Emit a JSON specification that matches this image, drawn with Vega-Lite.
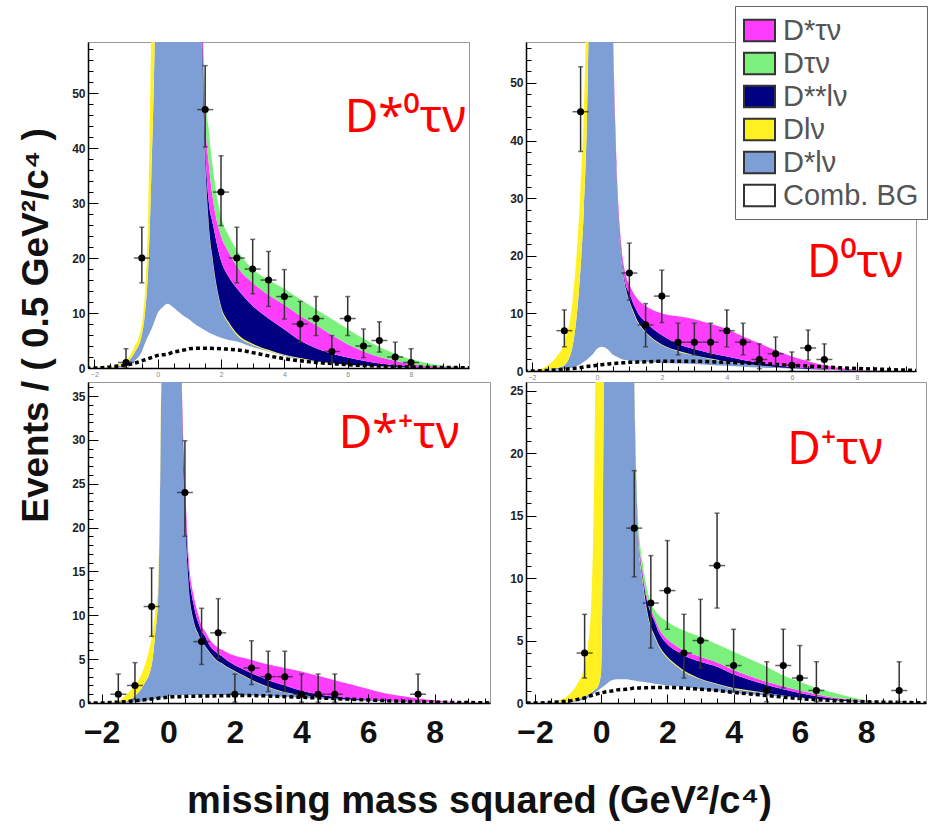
{
"$schema": "https://vega.github.io/schema/vega-lite/v6.json",
"background": "white",
"padding": {"left": 16, "top": 5, "right": 3, "bottom": 5},
"datasets": {
"comps": [
{"k":"bg","name":"Comb. BG","ord":0},
{"k":"s","name":"D*lν","ord":1},
{"k":"l","name":"Dlν","ord":2},
{"k":"ss","name":"D**lν","ord":3},
{"k":"st","name":"D*τν","ord":4},
{"k":"t","name":"Dτν","ord":5}
],
"curves": [
{"p":"a","x":-2.25,"bg":0,"s":0,"l":0,"ss":0,"st":0,"t":0,"d":0},
{"p":"a","x":-2,"bg":0,"s":0,"l":0,"ss":0,"st":0,"t":0,"d":0},
{"p":"a","x":-1.5,"bg":0,"s":0.05,"l":0.1,"ss":0,"st":0,"t":0,"d":0.2},
{"p":"a","x":-1.25,"bg":0.1,"s":0.2,"l":0.3,"ss":0,"st":0,"t":0,"d":0.35},
{"p":"a","x":-1,"bg":0.3,"s":0.6,"l":0.5,"ss":0,"st":0,"t":0,"d":0.5},
{"p":"a","x":-0.75,"bg":1.2,"s":1.4,"l":1,"ss":0,"st":0,"t":0,"d":0.85},
{"p":"a","x":-0.5,"bg":3,"s":3,"l":2,"ss":0,"st":0,"t":0,"d":1.3},
{"p":"a","x":-0.4,"bg":4.5,"s":5.5,"l":4,"ss":0,"st":0,"t":0,"d":1.5},
{"p":"a","x":-0.3,"bg":5.8,"s":12.2,"l":10,"ss":0,"st":0,"t":0,"d":1.7},
{"p":"a","x":-0.2,"bg":7,"s":28,"l":27,"ss":0,"st":0,"t":0,"d":1.9},
{"p":"a","x":-0.1,"bg":8.5,"s":49.5,"l":32,"ss":0,"st":0,"t":0,"d":2.1},
{"p":"a","x":0,"bg":10,"s":90,"l":30,"ss":0,"st":0,"t":0,"d":2.3},
{"p":"a","x":0.15,"bg":11,"s":139,"l":20,"ss":0,"st":0,"t":0,"d":2.4},
{"p":"a","x":0.3,"bg":11.7,"s":188,"l":10,"ss":0,"st":0,"t":0,"d":2.5},
{"p":"a","x":0.5,"bg":11,"s":199,"l":5,"ss":0,"st":0,"t":0,"d":2.9},
{"p":"a","x":0.6,"bg":10.5,"s":190,"l":5,"ss":0,"st":0,"t":0,"d":3},
{"p":"a","x":0.75,"bg":9.8,"s":180,"l":3,"ss":0,"st":0,"t":0,"d":3.2},
{"p":"a","x":0.9,"bg":9.2,"s":161,"l":2,"ss":0,"st":0,"t":0,"d":3.35},
{"p":"a","x":1,"bg":8.8,"s":141,"l":2,"ss":0,"st":0,"t":0,"d":3.5},
{"p":"a","x":1.1,"bg":8.3,"s":117,"l":1,"ss":0,"st":0,"t":0,"d":3.55},
{"p":"a","x":1.25,"bg":7.7,"s":87,"l":1,"ss":0,"st":0,"t":0,"d":3.6},
{"p":"a","x":1.4,"bg":7.2,"s":51,"l":0.5,"ss":3.5,"st":4,"t":4,"d":3.6},
{"p":"a","x":1.5,"bg":6.8,"s":31.2,"l":0.3,"ss":2.7,"st":5,"t":4,"d":3.6},
{"p":"a","x":1.6,"bg":6.5,"s":20.5,"l":0.3,"ss":3.7,"st":7,"t":6,"d":3.6},
{"p":"a","x":1.75,"bg":6.1,"s":12.9,"l":0.3,"ss":6.7,"st":4.5,"t":5.5,"d":3.55},
{"p":"a","x":2,"bg":5.5,"s":5.5,"l":0.3,"ss":8.2,"st":4.5,"t":3.5,"d":3.5},
{"p":"a","x":2.25,"bg":5.1,"s":2.9,"l":0.3,"ss":8.2,"st":4.5,"t":3,"d":3.4},
{"p":"a","x":2.5,"bg":4.8,"s":1.2,"l":0.3,"ss":8.2,"st":4,"t":3,"d":3.3},
{"p":"a","x":3,"bg":3.8,"s":0.4,"l":0.2,"ss":6.9,"st":4.2,"t":2.5,"d":2.8},
{"p":"a","x":3.5,"bg":3,"s":0.1,"l":0.2,"ss":5.7,"st":4.3,"t":2.7,"d":2.2},
{"p":"a","x":4,"bg":2.2,"s":0.1,"l":0.1,"ss":4.6,"st":4.5,"t":2.9,"d":1.7},
{"p":"a","x":4.5,"bg":1.6,"s":0.1,"l":0.1,"ss":3.2,"st":4.5,"t":3,"d":1.3},
{"p":"a","x":5,"bg":1.1,"s":0.05,"l":0.1,"ss":2.35,"st":4.2,"t":2.9,"d":1},
{"p":"a","x":5.5,"bg":0.8,"s":0.05,"l":0.05,"ss":1.7,"st":3.4,"t":2.9,"d":0.8},
{"p":"a","x":6,"bg":0.5,"s":0.05,"l":0.05,"ss":1.3,"st":2.4,"t":2.8,"d":0.6},
{"p":"a","x":6.5,"bg":0.35,"s":0.05,"l":0.05,"ss":0.85,"st":1.7,"t":2.3,"d":0.45},
{"p":"a","x":7,"bg":0.2,"s":0.05,"l":0.05,"ss":0.5,"st":1.2,"t":1.8,"d":0.35},
{"p":"a","x":7.5,"bg":0.15,"s":0.05,"l":0,"ss":0.3,"st":0.8,"t":1.3,"d":0.25},
{"p":"a","x":8,"bg":0.1,"s":0,"l":0,"ss":0.15,"st":0.45,"t":0.9,"d":0.2},
{"p":"a","x":8.5,"bg":0.05,"s":0,"l":0,"ss":0.05,"st":0.3,"t":0.5,"d":0.15},
{"p":"a","x":9,"bg":0,"s":0,"l":0,"ss":0.05,"st":0.15,"t":0.2,"d":0.1},
{"p":"a","x":9.5,"bg":0,"s":0,"l":0,"ss":0,"st":0.1,"t":0.1,"d":0.07},
{"p":"a","x":9.85,"bg":0,"s":0,"l":0,"ss":0,"st":0,"t":0.05,"d":0.05},

{"p":"b","x":-2.25,"bg":0,"s":0,"l":0,"ss":0,"st":0,"t":0,"d":0},
{"p":"b","x":-2,"bg":0,"s":0,"l":0.05,"ss":0,"st":0,"t":0,"d":0},
{"p":"b","x":-1.5,"bg":0.1,"s":0.1,"l":0.8,"ss":0,"st":0,"t":0,"d":0.1},
{"p":"b","x":-1.25,"bg":0.2,"s":0.3,"l":1.9,"ss":0,"st":0,"t":0,"d":0.2},
{"p":"b","x":-1,"bg":0.3,"s":0.7,"l":4,"ss":0,"st":0,"t":0,"d":0.3},
{"p":"b","x":-0.75,"bg":0.6,"s":3.6,"l":7.8,"ss":0,"st":0,"t":0,"d":0.45},
{"p":"b","x":-0.5,"bg":1.2,"s":16.8,"l":14,"ss":0,"st":0,"t":0,"d":0.6},
{"p":"b","x":-0.4,"bg":1.6,"s":26.4,"l":17,"ss":0,"st":0,"t":0,"d":0.7},
{"p":"b","x":-0.3,"bg":2,"s":43,"l":25,"ss":0,"st":0,"t":0,"d":0.8},
{"p":"b","x":-0.2,"bg":2.5,"s":77.5,"l":30,"ss":0,"st":0,"t":0,"d":0.85},
{"p":"b","x":-0.1,"bg":3.1,"s":127,"l":20,"ss":0,"st":0,"t":0,"d":0.9},
{"p":"b","x":0,"bg":3.8,"s":176,"l":10,"ss":0,"st":0,"t":0,"d":1},
{"p":"b","x":0.15,"bg":4.2,"s":196,"l":5,"ss":0,"st":0,"t":0,"d":1.1},
{"p":"b","x":0.3,"bg":3.9,"s":146,"l":2,"ss":0,"st":0,"t":0,"d":1.2},
{"p":"b","x":0.5,"bg":2.8,"s":54.2,"l":0.5,"ss":0.5,"st":1,"t":0,"d":1.3},
{"p":"b","x":0.6,"bg":2.5,"s":32.5,"l":0.3,"ss":0.7,"st":1,"t":0,"d":1.35},
{"p":"b","x":0.75,"bg":2.1,"s":17.9,"l":0.3,"ss":0.7,"st":1,"t":0,"d":1.4},
{"p":"b","x":0.9,"bg":1.9,"s":12.1,"l":0.2,"ss":0.6,"st":1.7,"t":0,"d":1.45},
{"p":"b","x":1,"bg":1.8,"s":10.2,"l":0.2,"ss":1.3,"st":1.5,"t":0,"d":1.5},
{"p":"b","x":1.1,"bg":1.75,"s":8.75,"l":0.2,"ss":1.3,"st":1.8,"t":0,"d":1.52},
{"p":"b","x":1.25,"bg":1.7,"s":6.8,"l":0.2,"ss":1.5,"st":2.3,"t":0,"d":1.55},
{"p":"b","x":1.5,"bg":1.6,"s":5.1,"l":0.1,"ss":1.7,"st":2.8,"t":0,"d":1.6},
{"p":"b","x":1.75,"bg":1.5,"s":3.9,"l":0.1,"ss":1.7,"st":3.3,"t":0,"d":1.65},
{"p":"b","x":2,"bg":1.4,"s":3.1,"l":0.1,"ss":1.6,"st":3.8,"t":0,"d":1.7},
{"p":"b","x":2.5,"bg":1.3,"s":2.1,"l":0.1,"ss":1.2,"st":4.8,"t":0,"d":1.7},
{"p":"b","x":3,"bg":1.2,"s":1.5,"l":0.05,"ss":1.05,"st":5.2,"t":0,"d":1.7},
{"p":"b","x":3.5,"bg":1.05,"s":1.05,"l":0.05,"ss":0.95,"st":5.1,"t":0,"d":1.6},
{"p":"b","x":4,"bg":0.9,"s":0.7,"l":0.05,"ss":0.85,"st":4.8,"t":0,"d":1.5},
{"p":"b","x":4.5,"bg":0.75,"s":0.55,"l":0,"ss":0.6,"st":4.1,"t":0,"d":1.4},
{"p":"b","x":5,"bg":0.6,"s":0.4,"l":0,"ss":0.4,"st":3.4,"t":0,"d":1.3},
{"p":"b","x":5.5,"bg":0.5,"s":0.2,"l":0,"ss":0.3,"st":2.6,"t":0,"d":1.15},
{"p":"b","x":6,"bg":0.4,"s":0.1,"l":0,"ss":0.2,"st":1.8,"t":0,"d":1},
{"p":"b","x":6.5,"bg":0.3,"s":0.05,"l":0,"ss":0.15,"st":1.2,"t":0,"d":0.85},
{"p":"b","x":7,"bg":0.2,"s":0.05,"l":0,"ss":0.05,"st":0.7,"t":0,"d":0.7},
{"p":"b","x":7.5,"bg":0.15,"s":0,"l":0,"ss":0.05,"st":0.3,"t":0,"d":0.55},
{"p":"b","x":8,"bg":0.1,"s":0,"l":0,"ss":0,"st":0.1,"t":0,"d":0.45},
{"p":"b","x":8.5,"bg":0.05,"s":0,"l":0,"ss":0,"st":0.05,"t":0,"d":0.35},
{"p":"b","x":9,"bg":0,"s":0,"l":0,"ss":0,"st":0.05,"t":0,"d":0.25},
{"p":"b","x":9.5,"bg":0,"s":0,"l":0,"ss":0,"st":0,"t":0,"d":0.15},
{"p":"b","x":9.85,"bg":0,"s":0,"l":0,"ss":0,"st":0,"t":0,"d":0.1},

{"p":"c","x":-2.45,"bg":0,"s":0,"l":0,"ss":0,"st":0,"t":0,"d":0},
{"p":"c","x":-2,"bg":0,"s":0,"l":0,"ss":0,"st":0,"t":0,"d":0},
{"p":"c","x":-1.5,"bg":0,"s":0.05,"l":0.15,"ss":0,"st":0,"t":0,"d":0.1},
{"p":"c","x":-1.25,"bg":0.05,"s":0.15,"l":0.8,"ss":0,"st":0,"t":0,"d":0.15},
{"p":"c","x":-1,"bg":0.1,"s":0.7,"l":1.2,"ss":0,"st":0,"t":0,"d":0.25},
{"p":"c","x":-0.75,"bg":0.2,"s":1.8,"l":1.8,"ss":0,"st":0,"t":0,"d":0.35},
{"p":"c","x":-0.5,"bg":0.4,"s":3.9,"l":3.2,"ss":0,"st":0,"t":0,"d":0.45},
{"p":"c","x":-0.4,"bg":0.45,"s":7.05,"l":2.5,"ss":0,"st":0,"t":0,"d":0.5},
{"p":"c","x":-0.3,"bg":0.5,"s":11.9,"l":1.6,"ss":0,"st":0,"t":0,"d":0.55},
{"p":"c","x":-0.2,"bg":0.6,"s":39.4,"l":2,"ss":0,"st":0,"t":0,"d":0.6},
{"p":"c","x":-0.1,"bg":0.7,"s":79.3,"l":1,"ss":0,"st":0,"t":0,"d":0.62},
{"p":"c","x":0,"bg":0.8,"s":119.2,"l":0.5,"ss":0,"st":0,"t":0,"d":0.65},
{"p":"c","x":0.15,"bg":0.85,"s":129,"l":0.3,"ss":0,"st":0,"t":0,"d":0.7},
{"p":"c","x":0.3,"bg":0.9,"s":69,"l":0.2,"ss":0.5,"st":0.5,"t":0,"d":0.72},
{"p":"c","x":0.4,"bg":0.9,"s":35,"l":0.1,"ss":1,"st":1,"t":0,"d":0.73},
{"p":"c","x":0.5,"bg":0.9,"s":21.1,"l":0.1,"ss":1.9,"st":1.5,"t":0,"d":0.75},
{"p":"c","x":0.6,"bg":0.9,"s":13.1,"l":0.1,"ss":1.9,"st":1.2,"t":0,"d":0.76},
{"p":"c","x":0.75,"bg":0.9,"s":8.6,"l":0.1,"ss":1.9,"st":1,"t":0,"d":0.78},
{"p":"c","x":0.9,"bg":0.9,"s":6.9,"l":0.1,"ss":1.3,"st":0.9,"t":0,"d":0.79},
{"p":"c","x":1,"bg":0.9,"s":6.1,"l":0.05,"ss":1.15,"st":0.6,"t":0,"d":0.8},
{"p":"c","x":1.1,"bg":0.9,"s":5.6,"l":0.05,"ss":1.05,"st":0.6,"t":0,"d":0.8},
{"p":"c","x":1.25,"bg":0.9,"s":4.8,"l":0.05,"ss":0.75,"st":0.7,"t":0,"d":0.8},
{"p":"c","x":1.4,"bg":0.9,"s":4.15,"l":0.05,"ss":0.8,"st":0.7,"t":0,"d":0.81},
{"p":"c","x":1.5,"bg":0.9,"s":3.8,"l":0.05,"ss":0.85,"st":0.7,"t":0,"d":0.82},
{"p":"c","x":1.6,"bg":0.9,"s":3.6,"l":0.05,"ss":0.8,"st":0.75,"t":0,"d":0.82},
{"p":"c","x":1.75,"bg":0.9,"s":3.2,"l":0.05,"ss":0.75,"st":0.9,"t":0,"d":0.83},
{"p":"c","x":2,"bg":0.9,"s":2.7,"l":0.05,"ss":0.65,"st":1.1,"t":0,"d":0.85},
{"p":"c","x":2.25,"bg":0.88,"s":2.22,"l":0.05,"ss":0.7,"st":1.3,"t":0,"d":0.85},
{"p":"c","x":2.5,"bg":0.85,"s":1.75,"l":0.05,"ss":0.75,"st":1.5,"t":0,"d":0.85},
{"p":"c","x":3,"bg":0.8,"s":1,"l":0.05,"ss":0.75,"st":1.8,"t":0,"d":0.8},
{"p":"c","x":3.5,"bg":0.7,"s":0.5,"l":0.05,"ss":0.75,"st":2,"t":0,"d":0.72},
{"p":"c","x":4,"bg":0.6,"s":0.3,"l":0,"ss":0.5,"st":2.2,"t":0,"d":0.65},
{"p":"c","x":4.5,"bg":0.5,"s":0.2,"l":0,"ss":0.3,"st":2.1,"t":0,"d":0.57},
{"p":"c","x":5,"bg":0.4,"s":0.1,"l":0,"ss":0.2,"st":1.9,"t":0,"d":0.5},
{"p":"c","x":5.5,"bg":0.32,"s":0.08,"l":0,"ss":0.15,"st":1.55,"t":0,"d":0.42},
{"p":"c","x":6,"bg":0.25,"s":0.05,"l":0,"ss":0.1,"st":1.2,"t":0,"d":0.35},
{"p":"c","x":6.5,"bg":0.2,"s":0.02,"l":0,"ss":0.08,"st":0.8,"t":0,"d":0.27},
{"p":"c","x":7,"bg":0.15,"s":0,"l":0,"ss":0.05,"st":0.6,"t":0,"d":0.2},
{"p":"c","x":7.5,"bg":0.12,"s":0,"l":0,"ss":0.03,"st":0.35,"t":0,"d":0.15},
{"p":"c","x":8,"bg":0.1,"s":0,"l":0,"ss":0,"st":0.2,"t":0,"d":0.1},
{"p":"c","x":8.5,"bg":0.05,"s":0,"l":0,"ss":0,"st":0.1,"t":0,"d":0.07},
{"p":"c","x":9,"bg":0,"s":0,"l":0,"ss":0,"st":0.05,"t":0,"d":0.05},
{"p":"c","x":9.5,"bg":0,"s":0,"l":0,"ss":0,"st":0,"t":0,"d":0.02},
{"p":"c","x":9.85,"bg":0,"s":0,"l":0,"ss":0,"st":0,"t":0,"d":0},

{"p":"d","x":-2.25,"bg":0,"s":0,"l":0,"ss":0,"st":0,"t":0,"d":0},
{"p":"d","x":-2,"bg":0,"s":0,"l":0,"ss":0,"st":0,"t":0,"d":0},
{"p":"d","x":-1.5,"bg":0,"s":0.02,"l":0.03,"ss":0,"st":0,"t":0,"d":0.05},
{"p":"d","x":-1.25,"bg":0.02,"s":0.03,"l":0.15,"ss":0,"st":0,"t":0,"d":0.1},
{"p":"d","x":-1,"bg":0.05,"s":0.05,"l":0.5,"ss":0,"st":0,"t":0,"d":0.15},
{"p":"d","x":-0.75,"bg":0.15,"s":0.1,"l":1.15,"ss":0,"st":0,"t":0,"d":0.27},
{"p":"d","x":-0.5,"bg":0.3,"s":0.2,"l":2.5,"ss":0,"st":0,"t":0,"d":0.4},
{"p":"d","x":-0.4,"bg":0.45,"s":0.2,"l":3.85,"ss":0,"st":0,"t":0,"d":0.5},
{"p":"d","x":-0.3,"bg":0.6,"s":0.25,"l":7.15,"ss":0,"st":0,"t":0,"d":0.6},
{"p":"d","x":-0.2,"bg":0.8,"s":0.25,"l":19,"ss":0,"st":0,"t":0,"d":0.68},
{"p":"d","x":-0.1,"bg":1,"s":0.3,"l":48.7,"ss":0,"st":0,"t":0,"d":0.75},
{"p":"d","x":0,"bg":1.2,"s":1.3,"l":77.5,"ss":0,"st":0,"t":0,"d":0.8},
{"p":"d","x":0.15,"bg":1.5,"s":58.5,"l":70,"ss":0,"st":0,"t":0,"d":0.9},
{"p":"d","x":0.3,"bg":1.8,"s":118,"l":40,"ss":0,"st":0,"t":0,"d":0.95},
{"p":"d","x":0.5,"bg":1.9,"s":148,"l":20,"ss":0,"st":0,"t":0,"d":1.05},
{"p":"d","x":0.6,"bg":1.9,"s":148,"l":15,"ss":0,"st":0,"t":0,"d":1.08},
{"p":"d","x":0.75,"bg":1.9,"s":118,"l":10,"ss":0,"st":0,"t":0,"d":1.1},
{"p":"d","x":0.9,"bg":1.85,"s":48,"l":2,"ss":0,"st":0,"t":0,"d":1.15},
{"p":"d","x":1,"bg":1.8,"s":23.2,"l":0.5,"ss":0.3,"st":0.2,"t":0.5,"d":1.2},
{"p":"d","x":1.1,"bg":1.75,"s":12.25,"l":0.3,"ss":0.3,"st":0.3,"t":0.6,"d":1.2},
{"p":"d","x":1.25,"bg":1.7,"s":8.1,"l":0.2,"ss":0.3,"st":0.3,"t":0.7,"d":1.22},
{"p":"d","x":1.4,"bg":1.65,"s":5.45,"l":0.15,"ss":0.75,"st":0.3,"t":0.7,"d":1.22},
{"p":"d","x":1.5,"bg":1.6,"s":4.4,"l":0.1,"ss":1.1,"st":0.3,"t":0.5,"d":1.23},
{"p":"d","x":1.6,"bg":1.55,"s":3.85,"l":0.1,"ss":1.1,"st":0.3,"t":0.6,"d":1.24},
{"p":"d","x":1.75,"bg":1.5,"s":3,"l":0.1,"ss":1,"st":0.35,"t":1.05,"d":1.25},
{"p":"d","x":2,"bg":1.4,"s":2.2,"l":0.1,"ss":1,"st":0.4,"t":1.4,"d":1.25},
{"p":"d","x":2.25,"bg":1.35,"s":1.65,"l":0.1,"ss":1.1,"st":0.4,"t":1.5,"d":1.23},
{"p":"d","x":2.5,"bg":1.3,"s":1.2,"l":0.1,"ss":1.2,"st":0.4,"t":1.6,"d":1.2},
{"p":"d","x":3,"bg":1.1,"s":0.8,"l":0.05,"ss":1.35,"st":0.4,"t":1.6,"d":1.1},
{"p":"d","x":3.5,"bg":0.95,"s":0.55,"l":0.05,"ss":1.35,"st":0.35,"t":1.45,"d":1},
{"p":"d","x":4,"bg":0.8,"s":0.35,"l":0.05,"ss":1.1,"st":0.35,"t":1.45,"d":0.85},
{"p":"d","x":4.5,"bg":0.7,"s":0.25,"l":0.05,"ss":0.85,"st":0.3,"t":1.35,"d":0.72},
{"p":"d","x":5,"bg":0.6,"s":0.2,"l":0,"ss":0.65,"st":0.25,"t":1.2,"d":0.6},
{"p":"d","x":5.5,"bg":0.5,"s":0.1,"l":0,"ss":0.5,"st":0.25,"t":0.85,"d":0.47},
{"p":"d","x":6,"bg":0.4,"s":0.05,"l":0,"ss":0.35,"st":0.2,"t":0.7,"d":0.35},
{"p":"d","x":6.5,"bg":0.3,"s":0.05,"l":0,"ss":0.2,"st":0.15,"t":0.5,"d":0.27},
{"p":"d","x":7,"bg":0.25,"s":0,"l":0,"ss":0.1,"st":0.1,"t":0.4,"d":0.2},
{"p":"d","x":7.5,"bg":0.15,"s":0,"l":0,"ss":0.07,"st":0.08,"t":0.2,"d":0.15},
{"p":"d","x":8,"bg":0.1,"s":0,"l":0,"ss":0.02,"st":0.03,"t":0.05,"d":0.1},
{"p":"d","x":8.5,"bg":0.05,"s":0,"l":0,"ss":0.01,"st":0.01,"t":0.01,"d":0.07},
{"p":"d","x":9,"bg":0.02,"s":0,"l":0,"ss":0,"st":0,"t":0,"d":0.05},
{"p":"d","x":9.5,"bg":0,"s":0,"l":0,"ss":0,"st":0,"t":0,"d":0.02},
{"p":"d","x":9.85,"bg":0,"s":0,"l":0,"ss":0,"st":0,"t":0,"d":0}
],
"pts": [
{"p":"a","x":-1,"n":1,"lo":0,"hi":3.5},
{"p":"a","x":-0.5,"n":20,"lo":15.5,"hi":25.6},
{"p":"a","x":1.5,"n":47,"lo":40.2,"hi":55},
{"p":"a","x":2,"n":32,"lo":25.9,"hi":38.6},
{"p":"a","x":2.5,"n":20,"lo":15.5,"hi":25.6},
{"p":"a","x":3,"n":18,"lo":13.5,"hi":23.4},
{"p":"a","x":3.5,"n":16,"lo":11.2,"hi":21.2},
{"p":"a","x":4,"n":13,"lo":8.9,"hi":17.9},
{"p":"a","x":4.5,"n":8,"lo":4.7,"hi":12.1},
{"p":"a","x":5,"n":9,"lo":5.9,"hi":13},
{"p":"a","x":5.5,"n":3,"lo":1,"hi":5.9},
{"p":"a","x":6,"n":9,"lo":5.9,"hi":13},
{"p":"a","x":6.5,"n":4,"lo":1.9,"hi":7.1},
{"p":"a","x":7,"n":5,"lo":2.9,"hi":8.4},
{"p":"a","x":7.5,"n":2,"lo":0.4,"hi":4.7},
{"p":"a","x":8,"n":1,"lo":0,"hi":3.5},
{"p":"b","x":-1,"n":7,"lo":4.2,"hi":10.6},
{"p":"b","x":-0.5,"n":45,"lo":38.1,"hi":52.8},
{"p":"b","x":1,"n":17,"lo":12.3,"hi":22.2},
{"p":"b","x":1.5,"n":8,"lo":4.2,"hi":11.7},
{"p":"b","x":2,"n":13,"lo":8.4,"hi":17.5},
{"p":"b","x":2.5,"n":5,"lo":2.8,"hi":8.3},
{"p":"b","x":3,"n":5,"lo":2.8,"hi":8.3},
{"p":"b","x":3.5,"n":5,"lo":2.8,"hi":8.3},
{"p":"b","x":4,"n":7,"lo":4.2,"hi":10.6},
{"p":"b","x":4.5,"n":5,"lo":2.8,"hi":8.3},
{"p":"b","x":5,"n":2,"lo":0.4,"hi":4.7},
{"p":"b","x":5.5,"n":3,"lo":1,"hi":5.9},
{"p":"b","x":6,"n":1,"lo":0,"hi":3.3},
{"p":"b","x":6.5,"n":4,"lo":1.9,"hi":7.1},
{"p":"b","x":7,"n":2,"lo":0.4,"hi":4.7},
{"p":"c","x":-1.5,"n":1,"lo":0.1,"hi":3.3},
{"p":"c","x":-1,"n":2,"lo":0.4,"hi":4.6},
{"p":"c","x":-0.5,"n":11,"lo":7.6,"hi":15.4},
{"p":"c","x":0.5,"n":24,"lo":19,"hi":29.9},
{"p":"c","x":1,"n":7,"lo":4.4,"hi":10.8},
{"p":"c","x":1.5,"n":8,"lo":5.1,"hi":11.9},
{"p":"c","x":2,"n":1,"lo":0.1,"hi":3.3},
{"p":"c","x":2.5,"n":4,"lo":2.1,"hi":7.1},
{"p":"c","x":3,"n":3,"lo":1.3,"hi":5.9},
{"p":"c","x":3.5,"n":3,"lo":1.3,"hi":5.9},
{"p":"c","x":4,"n":1,"lo":0.1,"hi":3.3},
{"p":"c","x":4.5,"n":1,"lo":0.1,"hi":3.3},
{"p":"c","x":5,"n":1,"lo":0.1,"hi":3.3},
{"p":"c","x":7.5,"n":1,"lo":0.1,"hi":3.3},
{"p":"d","x":-0.5,"n":4,"lo":2,"hi":7.1},
{"p":"d","x":1,"n":14,"lo":10.1,"hi":18.6},
{"p":"d","x":1.5,"n":8,"lo":4.4,"hi":11.8},
{"p":"d","x":2,"n":9,"lo":5.9,"hi":13},
{"p":"d","x":2.5,"n":4,"lo":2,"hi":7.1},
{"p":"d","x":3,"n":5,"lo":2.8,"hi":8.3},
{"p":"d","x":3.5,"n":11,"lo":7.6,"hi":15.2},
{"p":"d","x":4,"n":3,"lo":0.9,"hi":5.9},
{"p":"d","x":5,"n":1,"lo":0.1,"hi":3.3},
{"p":"d","x":5.5,"n":3,"lo":1.2,"hi":5.9},
{"p":"d","x":6,"n":2,"lo":0.3,"hi":4.6},
{"p":"d","x":6.5,"n":1,"lo":0.1,"hi":3.3},
{"p":"d","x":9,"n":1,"lo":0.1,"hi":3.3}
],
"labels": [
{"p":"a","x":7.82,"y":42.9,"t":"D*⁰τν"},
{"p":"b","x":7.94,"y":16.3,"t":"D⁰τν"},
{"p":"c","x":6.93,"y":29.1,"t":"D*⁺τν"},
{"p":"d","x":7.06,"y":19.1,"t":"D⁺τν"}
]
},
"concat": [
{"width": 381, "height": 326,
"layer": [
{"data": {"name": "curves"},
"transform": [{"filter": "datum.p === 'a'"}, {"fold": ["bg","s","l","ss","st","t"], "as": ["k","v"]}, {"lookup": "k", "from": {"data": {"name": "comps"}, "key": "k", "fields": ["name","ord"]}}],
"mark": {"type": "area", "interpolate": "monotone", "clip": true},
"encoding": {
"x": {"field": "x", "type": "quantitative", "scale": {"domain": [-2.2, 9.83], "nice": false, "zero": false}, "axis": {"zindex": 1, "values": [-2,0,2,4,6,8], "labelFontSize": 7, "labelColor": "#888", "tickSize": -9, "labelPadding": 11, "domainColor": "#000", "domainWidth": 1.5, "tickColor": "#000", "title": null, "grid": false}},
"y": {"field": "v", "type": "quantitative", "stack": "zero", "scale": {"domain": [0, 59.3], "nice": false}, "axis": {"zindex": 1, "values": [0,10,20,30,40,50], "labelFontSize": 12, "labelFontWeight": "bold", "labelColor": "#222", "tickSize": -10, "labelPadding": 13, "domainColor": "#000", "domainWidth": 1.5, "tickColor": "#000", "grid": false, "title": "Events / ( 0.5 GeV²/c⁴ )", "titleFontSize": 37, "titleFontWeight": "bold", "titleColor": "#111", "titleX": -52, "titleY": 283, "titleAngle": -90, "titleBaseline": "middle", "titleAlign": "center"}},
"color": {"field": "name", "type": "nominal", "scale": {"domain": ["D*τν","Dτν","D**lν","Dlν","D*lν","Comb. BG"], "range": ["#FF3DFF","#7CF07C","#000080","#FFF022","#7E9ED6","#FFFFFF"]}, "legend": {"title": null}},
"order": {"field": "ord", "type": "quantitative"}
}},
{"data": {"name": "curves"},
"transform": [{"filter": "datum.p === 'a'"}],
"mark": {"type": "line", "color": "#000", "strokeDash": [4,3], "strokeWidth": 3.5, "interpolate": "monotone", "clip": true},
"encoding": {
"x": {"field": "x", "type": "quantitative", "axis": {"zindex": 1, "orient": "bottom", "values": [-2,-1.5,-1,-0.5,0,0.5,1,1.5,2,2.5,3,3.5,4,4.5,5,5.5,6,6.5,7,7.5,8,8.5,9,9.5], "labels": false, "domain": false, "tickSize": -5, "tickColor": "#000", "title": null, "grid": false}},
"y": {"field": "d", "type": "quantitative", "axis": {"zindex": 1, "orient": "left", "values": [0,2,4,6,8,10,12,14,16,18,20,22,24,26,28,30,32,34,36,38,40,42,44,46,48,50,52,54,56,58], "labels": false, "domain": false, "tickSize": -5, "tickColor": "#000", "title": null, "grid": false}}
}},
{"data": {"name": "pts"}, "transform": [{"filter": "datum.p === 'a'"}],
"mark": {"type": "rule", "color": "#333", "strokeWidth": 1.5},
"encoding": {"x": {"field": "x", "type": "quantitative", "axis": null}, "y": {"field": "lo", "type": "quantitative", "axis": null}, "y2": {"field": "hi"}}},
{"data": {"name": "pts"}, "transform": [{"filter": "datum.p === 'a'"}, {"fold": ["lo","hi"], "as": ["e","ev"]}],
"mark": {"type": "tick", "orient": "horizontal", "size": 5, "thickness": 1.5, "color": "#333"},
"encoding": {"x": {"field": "x", "type": "quantitative", "axis": null}, "y": {"field": "ev", "type": "quantitative", "axis": null}}},
{"data": {"name": "pts"}, "transform": [{"filter": "datum.p === 'a'"}],
"mark": {"type": "tick", "orient": "horizontal", "size": 16, "thickness": 1.5, "color": "#222"},
"encoding": {"x": {"field": "x", "type": "quantitative", "axis": null}, "y": {"field": "n", "type": "quantitative", "axis": null}}},
{"data": {"name": "pts"}, "transform": [{"filter": "datum.p === 'a'"}],
"mark": {"type": "circle", "size": 50, "color": "#000", "opacity": 1},
"encoding": {"x": {"field": "x", "type": "quantitative", "axis": null}, "y": {"field": "n", "type": "quantitative", "axis": null}}},
{"data": {"name": "labels"}, "transform": [{"filter": "datum.p === 'a'"}],
"mark": {"type": "text", "font": "Noto Sans", "fontSize": 46, "color": "#FF0000", "align": "center", "baseline": "alphabetic"},
"encoding": {"x": {"field": "x", "type": "quantitative", "axis": null}, "y": {"field": "y", "type": "quantitative", "axis": null}, "text": {"field": "t"}}}
],
"resolve": {"axis": {"x": "independent", "y": "independent"}}
},
{"width": 390, "height": 329,
"layer": [
{"data": {"name": "curves"},
"transform": [{"filter": "datum.p === 'b'"}, {"fold": ["bg","s","l","ss","st","t"], "as": ["k","v"]}, {"lookup": "k", "from": {"data": {"name": "comps"}, "key": "k", "fields": ["name","ord"]}}],
"mark": {"type": "area", "interpolate": "monotone", "clip": true},
"encoding": {
"x": {"field": "x", "type": "quantitative", "scale": {"domain": [-2.18, 9.82], "nice": false, "zero": false}, "axis": {"zindex": 1, "values": [-2,0,2,4,6,8], "labelFontSize": 7, "labelColor": "#888", "tickSize": -9, "labelPadding": 11, "domainColor": "#000", "domainWidth": 1.5, "tickColor": "#000", "title": null, "grid": false}},
"y": {"field": "v", "type": "quantitative", "stack": "zero", "scale": {"domain": [0, 57.1], "nice": false}, "axis": {"zindex": 1, "values": [0,10,20,30,40,50], "labelFontSize": 12, "labelFontWeight": "bold", "labelColor": "#222", "tickSize": -10, "labelPadding": 13, "domainColor": "#000", "domainWidth": 1.5, "tickColor": "#000", "grid": false, "title": null}},
"color": {"field": "name", "type": "nominal", "scale": {"domain": ["D*τν","Dτν","D**lν","Dlν","D*lν","Comb. BG"], "range": ["#FF3DFF","#7CF07C","#000080","#FFF022","#7E9ED6","#FFFFFF"]}, "legend": {"title": null}},
"order": {"field": "ord", "type": "quantitative"}
}},
{"data": {"name": "curves"},
"transform": [{"filter": "datum.p === 'b'"}],
"mark": {"type": "line", "color": "#000", "strokeDash": [4,3], "strokeWidth": 3.5, "interpolate": "monotone", "clip": true},
"encoding": {
"x": {"field": "x", "type": "quantitative", "axis": {"zindex": 1, "orient": "bottom", "values": [-2,-1.5,-1,-0.5,0,0.5,1,1.5,2,2.5,3,3.5,4,4.5,5,5.5,6,6.5,7,7.5,8,8.5,9,9.5], "labels": false, "domain": false, "tickSize": -5, "tickColor": "#000", "title": null, "grid": false}},
"y": {"field": "d", "type": "quantitative", "axis": {"zindex": 1, "orient": "left", "values": [0,2,4,6,8,10,12,14,16,18,20,22,24,26,28,30,32,34,36,38,40,42,44,46,48,50,52,54,56], "labels": false, "domain": false, "tickSize": -5, "tickColor": "#000", "title": null, "grid": false}}
}},
{"data": {"name": "pts"}, "transform": [{"filter": "datum.p === 'b'"}],
"mark": {"type": "rule", "color": "#333", "strokeWidth": 1.5},
"encoding": {"x": {"field": "x", "type": "quantitative", "axis": null}, "y": {"field": "lo", "type": "quantitative", "axis": null}, "y2": {"field": "hi"}}},
{"data": {"name": "pts"}, "transform": [{"filter": "datum.p === 'b'"}, {"fold": ["lo","hi"], "as": ["e","ev"]}],
"mark": {"type": "tick", "orient": "horizontal", "size": 5, "thickness": 1.5, "color": "#333"},
"encoding": {"x": {"field": "x", "type": "quantitative", "axis": null}, "y": {"field": "ev", "type": "quantitative", "axis": null}}},
{"data": {"name": "pts"}, "transform": [{"filter": "datum.p === 'b'"}],
"mark": {"type": "tick", "orient": "horizontal", "size": 16, "thickness": 1.5, "color": "#222"},
"encoding": {"x": {"field": "x", "type": "quantitative", "axis": null}, "y": {"field": "n", "type": "quantitative", "axis": null}}},
{"data": {"name": "pts"}, "transform": [{"filter": "datum.p === 'b'"}],
"mark": {"type": "circle", "size": 50, "color": "#000", "opacity": 1},
"encoding": {"x": {"field": "x", "type": "quantitative", "axis": null}, "y": {"field": "n", "type": "quantitative", "axis": null}}},
{"data": {"name": "labels"}, "transform": [{"filter": "datum.p === 'b'"}],
"mark": {"type": "text", "font": "Noto Sans", "fontSize": 46, "color": "#FF0000", "align": "center", "baseline": "alphabetic"},
"encoding": {"x": {"field": "x", "type": "quantitative", "axis": null}, "y": {"field": "y", "type": "quantitative", "axis": null}, "text": {"field": "t"}}}
],
"resolve": {"axis": {"x": "independent", "y": "independent"}}
},
{"width": 402, "height": 321,
"layer": [
{"data": {"name": "curves"},
"transform": [{"filter": "datum.p === 'c'"}, {"fold": ["bg","s","l","ss","st","t"], "as": ["k","v"]}, {"lookup": "k", "from": {"data": {"name": "comps"}, "key": "k", "fields": ["name","ord"]}}],
"mark": {"type": "area", "interpolate": "monotone", "clip": true},
"encoding": {
"x": {"field": "x", "type": "quantitative", "scale": {"domain": [-2.41, 9.66], "nice": false, "zero": false}, "axis": {"zindex": 1, "values": [-2,0,2,4,6,8], "labelFontSize": 32, "labelFontWeight": "bold", "labelColor": "#111", "tickSize": -9, "labelPadding": 23, "domainColor": "#000", "domainWidth": 1.5, "tickColor": "#000", "grid": false, "title": "missing mass squared (GeV²/c⁴)", "titleFontSize": 38, "titleFontWeight": "bold", "titleColor": "#111", "titleX": 391, "titleY": 98, "titleBaseline": "middle", "titleAlign": "center"}},
"y": {"field": "v", "type": "quantitative", "stack": "zero", "scale": {"domain": [0, 36.6], "nice": false}, "axis": {"zindex": 1, "values": [0,5,10,15,20,25,30,35], "labelFontSize": 12, "labelFontWeight": "bold", "labelColor": "#222", "tickSize": -10, "labelPadding": 13, "domainColor": "#000", "domainWidth": 1.5, "tickColor": "#000", "grid": false, "title": null}},
"color": {"field": "name", "type": "nominal", "scale": {"domain": ["D*τν","Dτν","D**lν","Dlν","D*lν","Comb. BG"], "range": ["#FF3DFF","#7CF07C","#000080","#FFF022","#7E9ED6","#FFFFFF"]}, "legend": {"title": null}},
"order": {"field": "ord", "type": "quantitative"}
}},
{"data": {"name": "curves"},
"transform": [{"filter": "datum.p === 'c'"}],
"mark": {"type": "line", "color": "#000", "strokeDash": [4,3], "strokeWidth": 3.5, "interpolate": "monotone", "clip": true},
"encoding": {
"x": {"field": "x", "type": "quantitative", "axis": {"zindex": 1, "orient": "bottom", "values": [-2,-1.5,-1,-0.5,0,0.5,1,1.5,2,2.5,3,3.5,4,4.5,5,5.5,6,6.5,7,7.5,8,8.5,9,9.5], "labels": false, "domain": false, "tickSize": -5, "tickColor": "#000", "title": null, "grid": false}},
"y": {"field": "d", "type": "quantitative", "axis": {"zindex": 1, "orient": "left", "values": [0,1,2,3,4,5,6,7,8,9,10,11,12,13,14,15,16,17,18,19,20,21,22,23,24,25,26,27,28,29,30,31,32,33,34,35,36], "labels": false, "domain": false, "tickSize": -5, "tickColor": "#000", "title": null, "grid": false}}
}},
{"data": {"name": "pts"}, "transform": [{"filter": "datum.p === 'c'"}],
"mark": {"type": "rule", "color": "#333", "strokeWidth": 1.5},
"encoding": {"x": {"field": "x", "type": "quantitative", "axis": null}, "y": {"field": "lo", "type": "quantitative", "axis": null}, "y2": {"field": "hi"}}},
{"data": {"name": "pts"}, "transform": [{"filter": "datum.p === 'c'"}, {"fold": ["lo","hi"], "as": ["e","ev"]}],
"mark": {"type": "tick", "orient": "horizontal", "size": 5, "thickness": 1.5, "color": "#333"},
"encoding": {"x": {"field": "x", "type": "quantitative", "axis": null}, "y": {"field": "ev", "type": "quantitative", "axis": null}}},
{"data": {"name": "pts"}, "transform": [{"filter": "datum.p === 'c'"}],
"mark": {"type": "tick", "orient": "horizontal", "size": 16, "thickness": 1.5, "color": "#222"},
"encoding": {"x": {"field": "x", "type": "quantitative", "axis": null}, "y": {"field": "n", "type": "quantitative", "axis": null}}},
{"data": {"name": "pts"}, "transform": [{"filter": "datum.p === 'c'"}],
"mark": {"type": "circle", "size": 50, "color": "#000", "opacity": 1},
"encoding": {"x": {"field": "x", "type": "quantitative", "axis": null}, "y": {"field": "n", "type": "quantitative", "axis": null}}},
{"data": {"name": "labels"}, "transform": [{"filter": "datum.p === 'c'"}],
"mark": {"type": "text", "font": "Noto Sans", "fontSize": 46, "color": "#FF0000", "align": "center", "baseline": "alphabetic"},
"encoding": {"x": {"field": "x", "type": "quantitative", "axis": null}, "y": {"field": "y", "type": "quantitative", "axis": null}, "text": {"field": "t"}}}
],
"resolve": {"axis": {"x": "independent", "y": "independent"}}
},
{"width": 400, "height": 321,
"layer": [
{"data": {"name": "curves"},
"transform": [{"filter": "datum.p === 'd'"}, {"fold": ["bg","s","l","ss","st","t"], "as": ["k","v"]}, {"lookup": "k", "from": {"data": {"name": "comps"}, "key": "k", "fields": ["name","ord"]}}],
"mark": {"type": "area", "interpolate": "monotone", "clip": true},
"encoding": {
"x": {"field": "x", "type": "quantitative", "scale": {"domain": [-2.27, 9.81], "nice": false, "zero": false}, "axis": {"zindex": 1, "values": [-2,0,2,4,6,8], "labelFontSize": 32, "labelFontWeight": "bold", "labelColor": "#111", "tickSize": -9, "labelPadding": 23, "domainColor": "#000", "domainWidth": 1.5, "tickColor": "#000", "grid": false, "title": null}},
"y": {"field": "v", "type": "quantitative", "stack": "zero", "scale": {"domain": [0, 25.7], "nice": false}, "axis": {"zindex": 1, "values": [0,5,10,15,20,25], "labelFontSize": 12, "labelFontWeight": "bold", "labelColor": "#222", "tickSize": -10, "labelPadding": 13, "domainColor": "#000", "domainWidth": 1.5, "tickColor": "#000", "grid": false, "title": null}},
"color": {"field": "name", "type": "nominal", "scale": {"domain": ["D*τν","Dτν","D**lν","Dlν","D*lν","Comb. BG"], "range": ["#FF3DFF","#7CF07C","#000080","#FFF022","#7E9ED6","#FFFFFF"]}, "legend": {"title": null}},
"order": {"field": "ord", "type": "quantitative"}
}},
{"data": {"name": "curves"},
"transform": [{"filter": "datum.p === 'd'"}],
"mark": {"type": "line", "color": "#000", "strokeDash": [4,3], "strokeWidth": 3.5, "interpolate": "monotone", "clip": true},
"encoding": {
"x": {"field": "x", "type": "quantitative", "axis": {"zindex": 1, "orient": "bottom", "values": [-2,-1.5,-1,-0.5,0,0.5,1,1.5,2,2.5,3,3.5,4,4.5,5,5.5,6,6.5,7,7.5,8,8.5,9,9.5], "labels": false, "domain": false, "tickSize": -5, "tickColor": "#000", "title": null, "grid": false}},
"y": {"field": "d", "type": "quantitative", "axis": {"zindex": 1, "orient": "left", "values": [0,1,2,3,4,5,6,7,8,9,10,11,12,13,14,15,16,17,18,19,20,21,22,23,24,25], "labels": false, "domain": false, "tickSize": -5, "tickColor": "#000", "title": null, "grid": false}}
}},
{"data": {"name": "pts"}, "transform": [{"filter": "datum.p === 'd'"}],
"mark": {"type": "rule", "color": "#333", "strokeWidth": 1.5},
"encoding": {"x": {"field": "x", "type": "quantitative", "axis": null}, "y": {"field": "lo", "type": "quantitative", "axis": null}, "y2": {"field": "hi"}}},
{"data": {"name": "pts"}, "transform": [{"filter": "datum.p === 'd'"}, {"fold": ["lo","hi"], "as": ["e","ev"]}],
"mark": {"type": "tick", "orient": "horizontal", "size": 5, "thickness": 1.5, "color": "#333"},
"encoding": {"x": {"field": "x", "type": "quantitative", "axis": null}, "y": {"field": "ev", "type": "quantitative", "axis": null}}},
{"data": {"name": "pts"}, "transform": [{"filter": "datum.p === 'd'"}],
"mark": {"type": "tick", "orient": "horizontal", "size": 16, "thickness": 1.5, "color": "#222"},
"encoding": {"x": {"field": "x", "type": "quantitative", "axis": null}, "y": {"field": "n", "type": "quantitative", "axis": null}}},
{"data": {"name": "pts"}, "transform": [{"filter": "datum.p === 'd'"}],
"mark": {"type": "circle", "size": 50, "color": "#000", "opacity": 1},
"encoding": {"x": {"field": "x", "type": "quantitative", "axis": null}, "y": {"field": "n", "type": "quantitative", "axis": null}}},
{"data": {"name": "labels"}, "transform": [{"filter": "datum.p === 'd'"}],
"mark": {"type": "text", "font": "Noto Sans", "fontSize": 46, "color": "#FF0000", "align": "center", "baseline": "alphabetic"},
"encoding": {"x": {"field": "x", "type": "quantitative", "axis": null}, "y": {"field": "y", "type": "quantitative", "axis": null}, "text": {"field": "t"}}}
],
"resolve": {"axis": {"x": "independent", "y": "independent"}}
}
],
"columns": 2,
"spacing": {"row": 11, "column": 36},
"bounds": "flush",
"config": {
"font": "Liberation Sans",
"view": {"stroke": "#999", "strokeWidth": 1},
"legend": {"orient": "none", "legendX": 647, "legendY": -36, "labelFont": "Liberation Sans", "labelFontSize": 29, "labelColor": "#555", "labelOffset": 7, "symbolType": "M-1,-0.69H1V0.69H-1Z", "symbolSize": 961, "symbolStrokeColor": "#333", "symbolStrokeWidth": 2, "symbolOpacity": 1, "rowPadding": 1, "padding": 8, "strokeColor": "#666", "fillColor": "#FFFFFF"}
}
}
